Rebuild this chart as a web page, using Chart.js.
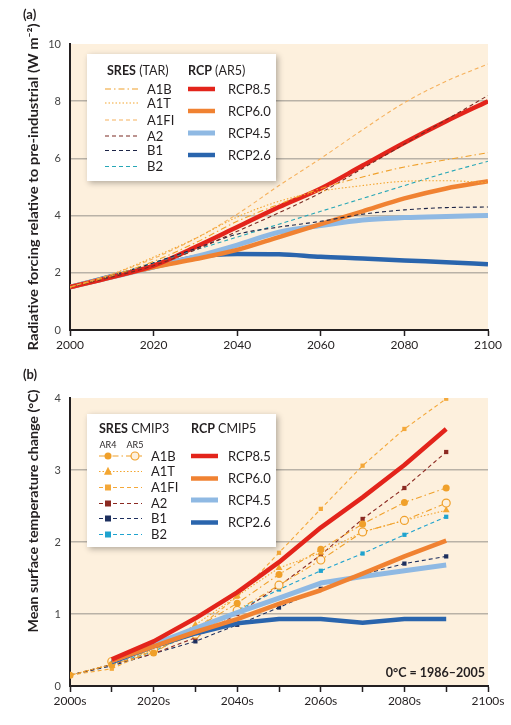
<!DOCTYPE html>
<html>
<head>
<meta charset="utf-8">
<script src="https://cdn.jsdelivr.net/npm/chart.js@4.4.1/dist/chart.umd.min.js"></script>
<style>
  html, body { margin: 0; padding: 0; background: #fff; }
  canvas { display: block; }
</style>
</head>
<body>
<canvas id="chartA" width="511" height="360"></canvas>
<canvas id="chartB" width="511" height="365"></canvas>
<script>
// ---- panel (a): radiative forcing, W m-2 ----
const yearsA = [2000, 2010, 2020, 2030, 2040, 2050, 2060, 2070, 2080, 2090, 2100];
const rcp85A = [1.5, 1.85, 2.25, 2.9, 3.6, 4.3, 4.95, 5.75, 6.55, 7.3, 8.0];
const rcp60A = [1.5, 1.85, 2.2, 2.48, 2.8, 3.25, 3.7, 4.15, 4.6, 4.95, 5.2];
const rcp45A = [1.5, 1.85, 2.2, 2.56, 2.97, 3.42, 3.65, 3.85, 3.93, 3.97, 4.0];
const rcp26A = [1.5, 1.88, 2.2, 2.55, 2.66, 2.65, 2.56, 2.5, 2.43, 2.37, 2.3];
const a1bA  = [1.5, 1.9, 2.4, 3.05, 3.8, 4.4, 4.95, 5.35, 5.7, 5.95, 6.2];
const a1tA  = [1.5, 1.95, 2.55, 3.2, 3.95, 4.5, 4.85, 5.05, 5.2, 5.22, 5.15];
const a1fiA = [1.5, 1.95, 2.5, 3.2, 4.05, 5.05, 6.0, 7.0, 7.95, 8.7, 9.3];
const a2A   = [1.5, 1.85, 2.25, 2.8, 3.45, 4.1, 4.8, 5.65, 6.5, 7.35, 8.2];
const b1A   = [1.5, 1.9, 2.35, 2.85, 3.35, 3.6, 3.8, 4.05, 4.2, 4.28, 4.3];
const b2A   = [1.5, 1.9, 2.35, 2.8, 3.25, 3.7, 4.15, 4.6, 5.05, 5.5, 5.9];

// ---- panel (b): mean surface temperature change, °C ----
const decadesB = [2000, 2010, 2020, 2030, 2040, 2050, 2060, 2070, 2080, 2090];
const a1bB    = [0.15, 0.3, 0.46, 0.8, 1.15, 1.55, 1.9, 2.25, 2.55, 2.75];
const a1bAr5B = [null, 0.34, 0.5, 0.72, 1.05, 1.4, 1.75, 2.14, 2.3, 2.54];
const a1tB    = [0.15, 0.3, 0.5, 0.85, 1.25, 1.64, 1.85, 2.14, 2.3, 2.44];
const a1fiB   = [0.15, 0.24, 0.5, 0.78, 1.24, 1.85, 2.46, 3.06, 3.57, 3.99];
const a2B     = [0.15, 0.3, 0.45, 0.67, 1.0, 1.39, 1.82, 2.32, 2.75, 3.25];
const b1B     = [0.15, 0.28, 0.45, 0.62, 0.85, 1.09, 1.35, 1.55, 1.7, 1.8];
const b2B     = [0.15, 0.3, 0.48, 0.75, 1.05, 1.34, 1.6, 1.84, 2.1, 2.35];
const rcp85B  = [null, 0.37, 0.62, 0.94, 1.3, 1.72, 2.2, 2.62, 3.07, 3.57];
const rcp60B  = [null, 0.35, 0.55, 0.75, 0.93, 1.14, 1.33, 1.56, 1.8, 2.02];
const rcp45B  = [null, 0.35, 0.58, 0.8, 1.02, 1.22, 1.43, 1.52, 1.6, 1.68];
const rcp26B  = [null, 0.33, 0.55, 0.73, 0.87, 0.93, 0.93, 0.88, 0.93, 0.93];

const yTicksA = [0, 2, 4, 6, 8, 10];
const yTicksB = [0, 1, 2, 3, 4];

const INK = '#231f20';
const PLOT_BG = '#fdf0dd';
const GRID = '#b9b2a7';
const col = {
  red: '#e3241b', orange: '#f08232', ltblue: '#8fb9e3', blue: '#2a65ad',
  a1b: '#f0a02a', a1t: '#f3a631', a1fi: '#f6b25e', a2: '#7a2a22', b1: '#1c2447', b2: '#27a7b7',
  a2b: '#8c2a22', b1b: '#1d2f5e', b2b: '#1fa3cf', a1fib: '#f4a83a'
};
const DASH = [4, 3], DOT = [1.5, 2], DASHDOT = [6, 3, 1.5, 3];

Chart.defaults.font.family = 'Lato, "Open Sans", sans-serif';
Chart.defaults.color = INK;

const pts = (xs, ys) => xs.map((x, i) => ({ x: x, y: ys[i] })).filter(p => p.y !== null);

// fill plot area
const bgPlugin = {
  id: 'bg',
  beforeDraw(chart) {
    const { ctx, chartArea: a } = chart;
    ctx.save();
    ctx.fillStyle = PLOT_BG;
    ctx.fillRect(a.left, a.top, a.right - a.left, a.bottom - a.top);
    ctx.restore();
  }
};

// panel letter, axis title, notes
const textPlugin = {
  id: 'texts',
  afterDraw(chart, args, opts) {
    const ctx = chart.ctx;
    opts.items.forEach(t => {
      ctx.save();
      ctx.translate(t.x, t.y);
      if (t.rot) ctx.rotate(-Math.PI / 2);
      ctx.font = t.font;
      ctx.fillStyle = INK;
      ctx.textAlign = t.align || 'left';
      ctx.textBaseline = 'middle';
      if (t.fit) {
        const w = ctx.measureText(t.text).width;
        ctx.scale(t.fit / w, 1);
      }
      ctx.fillText(t.text, 0, 0);
      ctx.restore();
    });
  }
};

function marker(ctx, style, x, y, r, fill, stroke, bw) {
  ctx.save();
  ctx.beginPath();
  if (style === 'rect') ctx.rect(x - r, y - r, 2 * r, 2 * r);
  else if (style === 'triangle') { ctx.moveTo(x, y - r * 1.2); ctx.lineTo(x + r, y + r * 0.8); ctx.lineTo(x - r, y + r * 0.8); ctx.closePath(); }
  else ctx.arc(x, y, r, 0, Math.PI * 2);
  ctx.fillStyle = fill; ctx.fill();
  if (bw) { ctx.lineWidth = bw; ctx.strokeStyle = stroke; ctx.stroke(); }
  ctx.restore();
}

// white legend box with two columns
const boxLegend = {
  id: 'boxLegend',
  afterDraw(chart, args, o) {
    const ctx = chart.ctx;
    const [bx, by, bw, bh] = o.box;
    ctx.save();
    ctx.shadowColor = 'rgba(0,0,0,0.3)';
    ctx.shadowBlur = 6; ctx.shadowOffsetX = 2; ctx.shadowOffsetY = 2;
    ctx.fillStyle = '#fff';
    ctx.fillRect(bx, by, bw, bh);
    ctx.restore();

    ctx.save();
    ctx.fillStyle = INK;
    ctx.textBaseline = 'middle';
    o.headers.forEach(h => {
      ctx.font = 'bold 12.5px Lato, sans-serif';
      ctx.fillText(h.bold, h.x, h.y);
      const w = ctx.measureText(h.bold).width;
      ctx.font = '12.5px Lato, sans-serif';
      ctx.fillText(h.rest, h.x + w, h.y);
    });
    (o.small || []).forEach(s => {
      ctx.font = '9px Lato, sans-serif';
      ctx.textAlign = 'center';
      ctx.fillText(s.text, s.x, s.y);
      ctx.textAlign = 'left';
    });
    ctx.restore();

    o.rows.forEach(r => {
      const ds = chart.data.datasets.find(d => d.label === r.label);
      ctx.save();
      ctx.strokeStyle = ds.borderColor;
      ctx.lineWidth = ds.borderWidth;
      ctx.setLineDash(ds.borderDash || []);
      ctx.beginPath(); ctx.moveTo(r.x0, r.y); ctx.lineTo(r.x1, r.y); ctx.stroke();
      ctx.restore();
      (r.marks || []).forEach(m => {
        const md = chart.data.datasets.find(d => d.label === m.label);
        marker(ctx, md.pointStyle, m.x, r.y, md.pointRadius, md.pointBackgroundColor, md.pointBorderColor, md.pointBorderWidth);
      });
      ctx.save();
      ctx.fillStyle = INK;
      ctx.font = '13px Lato, sans-serif';
      ctx.textBaseline = 'middle';
      ctx.fillText(r.text, r.tx, r.y + 0.5);
      ctx.restore();
    });
  }
};

function xAxis(min, max, step, fmt) {
  return {
    type: 'linear', min: min, max: max,
    afterFit: s => { s.height = 30; },
    border: { color: INK, width: 2 },
    grid: { drawOnChartArea: false, drawTicks: true, tickLength: 6, tickColor: INK, tickWidth: 1.5 },
    ticks: { stepSize: step, autoSkip: false, maxRotation: 0, padding: 2, font: { size: 12 }, color: INK, callback: fmt }
  };
}
function yAxis(min, max, step) {
  return {
    min: min, max: max,
    afterFit: s => { s.width = 70; },
    border: { color: INK, width: 2 },
    grid: {
      drawTicks: false, lineWidth: 1.5,
      color: c => (c.tick && c.tick.value > min && c.tick.value < max) ? GRID : 'rgba(0,0,0,0)'
    },
    ticks: { stepSize: step, padding: 9, font: { size: 11 }, color: '#444' }
  };
}

// ---------- chart (a) ----------
function lineA(label, data, color, width, dash) {
  return {
    label: label, data: pts(yearsA, data), borderColor: color, borderWidth: width,
    borderDash: dash || [], pointRadius: 0, cubicInterpolationMode: 'monotone',
    borderJoinStyle: 'round', fill: false
  };
}

new Chart(document.getElementById('chartA'), {
  type: 'line',
  data: {
    datasets: [
      lineA('A1B', a1bA, col.a1b, 1.1, DASHDOT),
      lineA('A1T', a1tA, col.a1t, 1.1, DOT),
      lineA('A1FI', a1fiA, col.a1fi, 1.1, DASH),
      lineA('A2', a2A, col.a2, 1.1, DASH),
      lineA('B1', b1A, col.b1, 1.1, DASH),
      lineA('B2', b2A, col.b2, 1.1, DASH),
      lineA('RCP8.5', rcp85A, col.red, 4.5),
      lineA('RCP6.0', rcp60A, col.orange, 4.5),
      lineA('RCP4.5', rcp45A, col.ltblue, 5),
      lineA('RCP2.6', rcp26A, col.blue, 4.5)
    ]
  },
  plugins: [bgPlugin, textPlugin, boxLegend],
  options: {
    responsive: false, animation: false, devicePixelRatio: 1,
    layout: { padding: { top: 44, right: 23, bottom: 0, left: 0 } },
    scales: {
      x: xAxis(yearsA[0], yearsA[yearsA.length - 1], 20, v => String(v)),
      y: yAxis(yTicksA[0], yTicksA[yTicksA.length - 1], 2)
    },
    plugins: {
      legend: { display: false }, tooltip: { enabled: false },
      texts: {
        items: [
          { text: '(a)', x: 23, y: 15, font: 'bold 13px Lato, sans-serif' },
          { text: 'Radiative forcing relative to pre-industrial (W m\u207B\u00B2)', x: 34, y: 187, rot: true,
            align: 'center', font: 'bold 13px Lato, sans-serif', fit: 327 }
        ]
      },
      boxLegend: {
        box: [87, 54, 189, 127],
        headers: [{ bold: 'SRES', rest: ' (TAR)', x: 107, y: 71 }, { bold: 'RCP', rest: ' (AR5)', x: 188, y: 71 }],
        rows: [
          { label: 'A1B', text: 'A1B', y: 89, x0: 105, x1: 138, tx: 147 },
          { label: 'A1T', text: 'A1T', y: 103, x0: 105, x1: 138, tx: 147 },
          { label: 'A1FI', text: 'A1FI', y: 120, x0: 105, x1: 138, tx: 147 },
          { label: 'A2', text: 'A2', y: 136, x0: 105, x1: 138, tx: 147 },
          { label: 'B1', text: 'B1', y: 150.5, x0: 105, x1: 138, tx: 147 },
          { label: 'B2', text: 'B2', y: 166.5, x0: 105, x1: 138, tx: 147 },
          { label: 'RCP8.5', text: 'RCP8.5', y: 89, x0: 188, x1: 215, tx: 228 },
          { label: 'RCP6.0', text: 'RCP6.0', y: 111, x0: 188, x1: 215, tx: 228 },
          { label: 'RCP4.5', text: 'RCP4.5', y: 133, x0: 188, x1: 215, tx: 228 },
          { label: 'RCP2.6', text: 'RCP2.6', y: 155, x0: 188, x1: 215, tx: 228 }
        ]
      }
    }
  }
});

// ---------- chart (b) ----------
function lineB(label, data, color, width, dash, pstyle, prad, open) {
  return {
    label: label, data: pts(decadesB, data), borderColor: color, borderWidth: width,
    borderDash: dash || [], tension: 0, fill: false, borderJoinStyle: 'round',
    pointStyle: pstyle || 'circle', pointRadius: prad || 0,
    pointBackgroundColor: open ? PLOT_BG : color, pointBorderColor: color,
    pointBorderWidth: open ? 1.2 : 0
  };
}

new Chart(document.getElementById('chartB'), {
  type: 'line',
  data: {
    datasets: [
      lineB('RCP8.5', rcp85B, col.red, 4.5),
      lineB('RCP6.0', rcp60B, col.orange, 4.5),
      lineB('RCP4.5', rcp45B, col.ltblue, 5),
      lineB('RCP2.6', rcp26B, col.blue, 4.5),
      lineB('A1B', a1bB, col.a1b, 1.1, DASHDOT, 'circle', 3.5),
      lineB('A1B AR5', a1bAr5B, col.a1b, 1.1, DASHDOT, 'circle', 4, true),
      lineB('A1T', a1tB, col.a1t, 1.1, DOT, 'triangle', 4),
      lineB('A1FI', a1fiB, col.a1fib, 1.1, DASH, 'rect', 3),
      lineB('A2', a2B, col.a2b, 1.1, DASH, 'rect', 3),
      lineB('B1', b1B, col.b1b, 1.1, DASH, 'rect', 3),
      lineB('B2', b2B, col.b2b, 1.1, DASH, 'rect', 3)
    ]
  },
  plugins: [bgPlugin, textPlugin, boxLegend],
  options: {
    responsive: false, animation: false, devicePixelRatio: 1,
    layout: { padding: { top: 38, right: 23, bottom: 9, left: 0 } },
    scales: {
      x: xAxis(2000, 2100, 10, v => (v % 20 === 0 ? v + 's' : '')),
      y: yAxis(yTicksB[0], yTicksB[yTicksB.length - 1], 1)
    },
    plugins: {
      legend: { display: false }, tooltip: { enabled: false },
      texts: {
        items: [
          { text: '(b)', x: 23, y: 15, font: 'bold 13px Lato, sans-serif' },
          { text: 'Mean surface temperature change (\u00B0C)', x: 34, y: 151, rot: true,
            align: 'center', font: 'bold 13px Lato, sans-serif', fit: 243 },
          { text: '0\u00B0C = 1986\u20132005', x: 485, y: 313, align: 'right', font: 'bold 12.5px Lato, sans-serif' }
        ]
      },
      boxLegend: {
        box: [87, 54, 189, 133],
        headers: [{ bold: 'SRES', rest: ' CMIP3', x: 99, y: 69 }, { bold: 'RCP', rest: ' CMIP5', x: 191, y: 69 }],
        small: [{ text: 'AR4', x: 108, y: 85 }, { text: 'AR5', x: 135, y: 85 }],
        rows: [
          { label: 'A1B', text: 'A1B', y: 96, x0: 99, x1: 142, tx: 151, marks: [{ label: 'A1B', x: 108 }, { label: 'A1B AR5', x: 135 }] },
          { label: 'A1T', text: 'A1T', y: 111.5, x0: 99, x1: 142, tx: 151, marks: [{ label: 'A1T', x: 108 }] },
          { label: 'A1FI', text: 'A1FI', y: 127.5, x0: 99, x1: 142, tx: 151, marks: [{ label: 'A1FI', x: 108 }] },
          { label: 'A2', text: 'A2', y: 143.5, x0: 99, x1: 142, tx: 151, marks: [{ label: 'A2', x: 108 }] },
          { label: 'B1', text: 'B1', y: 158.5, x0: 99, x1: 142, tx: 151, marks: [{ label: 'B1', x: 108 }] },
          { label: 'B2', text: 'B2', y: 174.5, x0: 99, x1: 142, tx: 151, marks: [{ label: 'B2', x: 108 }] },
          { label: 'RCP8.5', text: 'RCP8.5', y: 96, x0: 191, x1: 218, tx: 228 },
          { label: 'RCP6.0', text: 'RCP6.0', y: 118.5, x0: 191, x1: 218, tx: 228 },
          { label: 'RCP4.5', text: 'RCP4.5', y: 140, x0: 191, x1: 218, tx: 228 },
          { label: 'RCP2.6', text: 'RCP2.6', y: 162.5, x0: 191, x1: 218, tx: 228 }
        ]
      }
    }
  }
});
</script>
</body>
</html>
